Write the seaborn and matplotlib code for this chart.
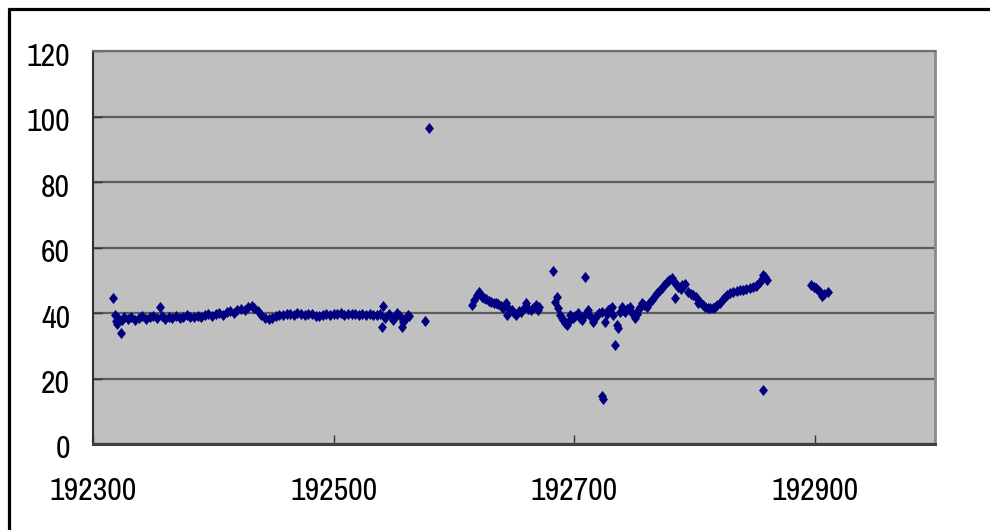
import matplotlib
matplotlib.use("Agg")
import matplotlib.pyplot as plt
import matplotlib.transforms as mtransforms
from matplotlib.lines import Line2D
from matplotlib import font_manager
from matplotlib.font_manager import FontProperties
import seaborn as sns
import pandas as pd

# ---- data ----
seg_a_x = [192317, 192318, 192319, 192320, 192321, 192323, 192324, 192326, 192329, 192332,
           192335, 192338, 192341, 192344, 192347, 192350, 192353, 192356, 192357, 192360,
           192363, 192366, 192369, 192372, 192375, 192378, 192381, 192384, 192387, 192390,
           192393, 192396, 192399, 192402, 192405, 192408, 192411, 192414, 192417, 192420,
           192423, 192426, 192429, 192432, 192434, 192437, 192440, 192443, 192446, 192449,
           192452, 192455, 192458, 192461, 192464, 192467, 192470, 192473, 192476, 192479,
           192482, 192485, 192488, 192491, 192494, 192497, 192500, 192503, 192506, 192509,
           192512, 192515, 192518, 192521, 192524, 192527, 192530, 192533, 192536, 192539,
           192540, 192541, 192543, 192546, 192549, 192551, 192553, 192555, 192557, 192558,
           192560, 192562, 192563]
seg_a_y = [44.5, 39.5, 37.5, 36.5, 38.5, 34.0, 38.0, 38.8, 38.2, 38.9,
           38.0, 38.6, 39.0, 38.2, 38.8, 39.2, 38.4, 41.8, 39.0, 38.2,
           38.8, 38.4, 39.2, 38.6, 38.9, 39.3, 38.7, 38.9, 39.1, 38.8,
           39.3, 39.6, 39.2, 39.8, 40.0, 39.5, 40.2, 40.6, 40.1, 40.8,
           41.2, 41.0, 41.8, 42.2, 41.6, 40.5, 39.4, 38.6, 38.2, 38.5,
           39.0, 39.4, 39.3, 39.7, 39.8, 39.5, 39.9, 39.8, 39.4, 39.6,
           39.7, 39.2, 39.0, 39.4, 39.6, 39.5, 39.8, 39.6, 39.9, 39.5,
           39.7, 39.6, 39.8, 39.5, 39.6, 39.4, 39.7, 39.5, 39.4, 39.8,
           35.8, 42.1, 38.4, 39.6, 37.8, 38.8, 39.9, 39.2, 35.8, 37.2,
           38.6, 39.5, 39.2]

iso_x = [192576, 192579]
iso_y = [37.7, 96.4]

seg_b_x = [192615, 192617, 192619, 192621, 192623, 192625, 192627, 192629, 192631, 192633,
           192635, 192637, 192639, 192641, 192643, 192644, 192646, 192648, 192650, 192652,
           192654, 192656, 192658, 192660, 192662, 192664, 192666, 192668, 192670, 192671]
seg_b_y = [42.4, 44.0, 45.5, 46.5, 45.0, 44.6, 44.2, 43.8, 43.5, 43.2,
           43.0, 42.6, 42.2, 41.5, 43.1, 39.4, 41.2, 40.9, 40.0, 39.4,
           40.6, 40.4, 41.6, 43.0, 41.2, 40.8, 41.6, 42.4, 40.9, 41.8]

seg_c_x = [192682.6, 192684, 192685.5, 192686.8, 192688, 192689.5, 192691, 192692.5, 192694, 192695.5,
           192696.5, 192698, 192699.3, 192701, 192703.4, 192705, 192706.3, 192708, 192709, 192710,
           192711.7, 192713.5, 192716, 192717.5, 192719, 192721, 192723, 192723.2, 192723.6, 192725.6,
           192727, 192728.4, 192730, 192731.2, 192732.5, 192733.9, 192735.3, 192736.7, 192738, 192739.5,
           192741, 192742.3, 192744, 192746.4, 192748.5, 192750.6, 192752, 192753.3, 192755, 192756.1,
           192758, 192760.3, 192762.5, 192764.4, 192766.5, 192768.6, 192770.5, 192772.8, 192775, 192776.9,
           192779, 192781.1, 192783.8, 192783, 192785, 192786.6, 192788.5, 192790, 192792.1, 192794.9,
           192797, 192799, 192801, 192803.2, 192805, 192807, 192809, 192811, 192813, 192815.4,
           192817, 192819, 192821.3, 192823.5, 192825, 192827, 192829.5, 192832, 192835, 192838,
           192840.4, 192843, 192846, 192848.7, 192851, 192852, 192854.5, 192856, 192857, 192857.3,
           192858.5, 192860.3]
seg_c_y = [52.8, 43.4, 45.0, 41.4, 39.4, 38.6, 37.9, 37.0, 36.3, 37.6,
           39.4, 38.8, 38.4, 39.0, 39.9, 38.6, 37.9, 39.2, 51.1, 40.0,
           40.9, 39.0, 37.3, 38.6, 39.4, 40.0, 40.4, 14.6, 13.7, 37.3,
           39.6, 40.9, 41.2, 41.9, 39.4, 30.2, 36.3, 35.3, 40.4, 41.9,
           41.0, 40.4, 41.2, 41.9, 40.0, 38.4, 39.6, 40.9, 41.8, 43.0,
           42.4, 41.9, 43.0, 44.0, 45.0, 46.0, 46.8, 47.5, 48.5, 49.5,
           50.0, 50.6, 44.5, 49.5, 48.8, 48.0, 47.2, 48.5, 49.0, 46.5,
           45.8, 45.5, 44.8, 43.0, 43.4, 42.4, 41.9, 41.6, 41.4, 41.4,
           41.8, 42.4, 43.2, 44.2, 45.0, 45.5, 46.2, 46.5, 46.6, 46.9,
           47.0, 47.4, 47.6, 47.8, 48.2, 48.5, 49.5, 50.5, 51.6, 16.5,
           51.0, 50.2]

seg_d_x = [192897, 192899, 192901, 192903, 192904.5, 192906, 192908, 192911]
seg_d_y = [48.5, 48.0, 47.6, 47.0, 46.3, 45.3, 45.8, 46.5]

x_ticks = [192300, 192500, 192700, 192900]
y_ticks = [0, 20, 40, 60, 80, 100, 120]

df = pd.DataFrame({
    "x": seg_a_x + iso_x + seg_b_x + seg_c_x + seg_d_x,
    "y": seg_a_y + iso_y + seg_b_y + seg_c_y + seg_d_y,
})

sns.set_theme(style="white")
avail = {f.name for f in font_manager.fontManager.ttflist}
fams = [f for f in ["Liberation Sans Narrow", "Liberation Sans", "DejaVu Sans"] if f in avail]
plt.rcParams["font.family"] = fams

# look for a narrow (Arial Narrow-like) face if one is installed
narrow_path = None
for f in font_manager.fontManager.ttflist:
    fn = f.fname.lower()
    if "narrow" in fn and "bold" not in fn and "italic" not in fn:
        narrow_path = f.fname
        break
if narrow_path:
    tick_font = FontProperties(fname=narrow_path, size=23)
else:
    tick_font = FontProperties(family=fams, size=21)

W, H = 990, 530
fig = plt.figure(figsize=(W / 100, H / 100), dpi=100)
fig.patch.set_facecolor("white")
L, R, T, B = 93, 935, 51, 444
ax = fig.add_axes([L / W, 1 - B / H, (R - L) / W, (B - T) / H])
ax.set_facecolor("#C0C0C0")

diamond = [(0, 1), (0.8, 0), (0, -1), (-0.8, 0), (0, 1)]
sns.scatterplot(data=df, x="x", y="y", marker=diamond, s=64, color="#000080",
                linewidth=0, ax=ax, zorder=3, legend=False)

ax.set_xlim(192300, 193000)
ax.set_ylim(0, 120)
ax.set_xticks(x_ticks)
ax.set_yticks(y_ticks)
ax.set_xticklabels([str(v) for v in x_ticks])
ax.set_yticklabels([str(v) for v in y_ticks])
ax.set_xlabel("")
ax.set_ylabel("")

ax.grid(axis="y", color="#5c5c5c", linewidth=1.6, zorder=1)
ax.grid(axis="x", visible=False)
ax.set_axisbelow(True)

ax.spines["left"].set_color("#303030")
ax.spines["left"].set_linewidth(1.5)
ax.spines["bottom"].set_color("#404040")
ax.spines["bottom"].set_linewidth(2.2)
ax.spines["right"].set_color("#8a8a8a")
ax.spines["right"].set_linewidth(2.0)
ax.spines["top"].set_color("#707070")
ax.spines["top"].set_linewidth(1.6)

ax.tick_params(axis="both", direction="in", length=6.5, width=1.0, color="#333333",
               labelcolor="black")
ax.tick_params(axis="y", pad=16.5, left=True)
ax.tick_params(axis="x", pad=24, bottom=True)

for lbl in ax.get_xticklabels() + ax.get_yticklabels():
    lbl.set_fontproperties(tick_font)

off = mtransforms.ScaledTranslation(0, -3 / 100, fig.dpi_scale_trans)
for lbl in ax.get_yticklabels():
    lbl.set_transform(lbl.get_transform() + off)

# outer chart-area border (top and left visible)
fig.add_artist(Line2D([9 / W, 1.0], [1 - 9 / H, 1 - 9 / H], color="black",
                      linewidth=2.3, transform=fig.transFigure))
fig.add_artist(Line2D([9 / W, 9 / W], [1 - 9 / H, 0.0], color="black",
                      linewidth=2.3, transform=fig.transFigure))

fig.savefig("out.png", dpi=100)
